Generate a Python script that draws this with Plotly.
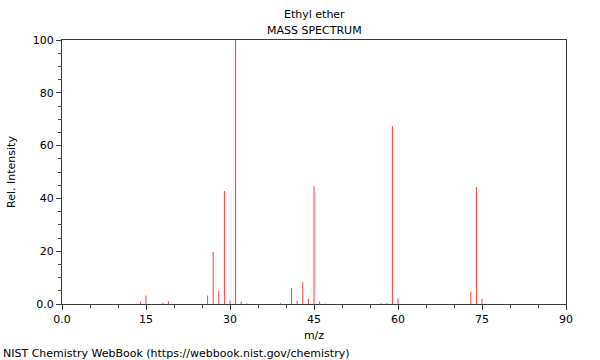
import plotly.graph_objects as go

mz = [14, 15, 18, 19, 26, 27, 28, 29, 30, 31, 32, 33,
      39, 41, 42, 43, 44, 45, 46, 47, 57, 58, 59, 60, 73, 74, 75]
intensity = [0.9, 3.2, 0.5, 1.0, 3.2, 19.7, 5.0, 42.8, 1.3, 100.0, 0.9, 0.2,
             0.3, 6.1, 1.3, 8.2, 1.9, 44.7, 1.0, 0.2, 0.3, 0.4, 67.4, 2.1,
             4.7, 44.3, 2.0]
x_tickvals = [0, 15, 30, 45, 60, 75, 90]
x_ticktext = ["0.0", "15", "30", "45", "60", "75", "90"]
y_tickvals = [0, 20, 40, 60, 80, 100]
y_ticktext = ["0.0", "20", "40", "60", "80", "100"]

xs, ys = [], []
for m, h in zip(mz, intensity):
    xs += [m, m, None]
    ys += [0, h, None]

font = "DejaVu Sans, Verdana, sans-serif"
axcol = "#3a3a3a"

fig = go.Figure()
fig.add_trace(go.Scatter(x=xs, y=ys, mode="lines",
                         line=dict(color="rgb(255,60,60)", width=1),
                         hoverinfo="skip", showlegend=False))

fig.update_layout(
    width=600, height=360,
    margin=dict(l=62, r=34, t=40, b=56),
    paper_bgcolor="white", plot_bgcolor="white",
    font=dict(family=font, size=11, color="black"),
    showlegend=False,
    xaxis=dict(range=[0, 90], tickvals=x_tickvals, ticktext=x_ticktext,
               ticks="outside", ticklen=5, tickcolor=axcol, automargin=False,
               showline=True, linecolor=axcol, linewidth=1, mirror=True,
               showgrid=False, zeroline=False,
               minor=dict(dtick=5, ticks="outside", ticklen=3, tickcolor=axcol, showgrid=False),
               title=dict(text="m/z", font=dict(size=11), standoff=6)),
    yaxis=dict(range=[0, 100], tickvals=y_tickvals, ticktext=y_ticktext,
               ticks="outside", ticklen=5, tickcolor=axcol, automargin=False,
               showline=True, linecolor=axcol, linewidth=1, mirror=True,
               showgrid=False, zeroline=False,
               minor=dict(dtick=5, ticks="outside", ticklen=3, tickcolor=axcol, showgrid=False),
               title=dict(text="Rel. Intensity", font=dict(size=11), standoff=14)),
)
fig.add_annotation(text="Ethyl ether", xref="paper", yref="paper", x=0.5, y=1,
                   yshift=26, xanchor="center", yanchor="middle", showarrow=False,
                   font=dict(size=11))
fig.add_annotation(text="MASS SPECTRUM", xref="paper", yref="paper", x=0.5, y=1,
                   yshift=10, xanchor="center", yanchor="middle", showarrow=False,
                   font=dict(size=11))
fig.add_annotation(text="NIST Chemistry WebBook (https://webbook.nist.gov/chemistry)",
                   xref="paper", yref="paper", x=0, y=0, xshift=-61, yshift=-49,
                   xanchor="left", yanchor="middle", showarrow=False,
                   font=dict(size=11))

fig.write_html("out.html", config={"displayModeBar": False},
               post_script="document.body.style.margin='0';")
